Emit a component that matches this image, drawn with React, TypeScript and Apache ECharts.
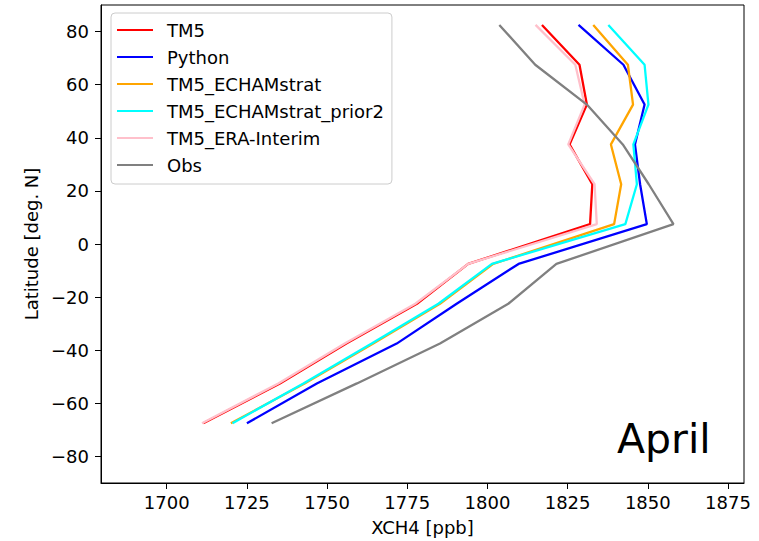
import React, { useEffect, useRef } from "react";
import * as echarts from "echarts";

const latitudes = [82.5, 67.5, 52.5, 37.5, 22.5, 7.5, -7.5, -22.5, -37.5, -52.5, -67.5];
const tm5 = [1817, 1828.7, 1831, 1825.6, 1832.7, 1832, 1794, 1778, 1756, 1735.3, 1711.4];
const python = [1828.4, 1842.4, 1849, 1846, 1847.6, 1849.7, 1809.7, 1790.4, 1771.7, 1746.8, 1725];
const echamStrat = [1833, 1843.8, 1845.4, 1838.5, 1841.7, 1839.5, 1801.8, 1785.2, 1764.4, 1743, 1720];
const echamStratPrior2 = [1837.7, 1849, 1850.2, 1845.5, 1846.6, 1843, 1801.4, 1784.7, 1763.9, 1742.6, 1720.5];
const eraInterim = [1815, 1827.4, 1830.3, 1825.2, 1833.4, 1834.1, 1794, 1777.5, 1755.5, 1734.8, 1711];
const obs = [1803.7, 1814.9, 1831, 1842.2, 1850.3, 1858, 1821.5, 1806.5, 1785.2, 1759.3, 1732.7];

const xTicks = [1700, 1725, 1750, 1775, 1800, 1825, 1850, 1875];
const yTicks = [-80, -60, -40, -20, 0, 20, 40, 60, 80];

const seriesDefs = [
  { name: "TM5", values: tm5, color: "#ff0000" },
  { name: "Python", values: python, color: "#0000ff" },
  { name: "TM5_ECHAMstrat", values: echamStrat, color: "#ffa500" },
  { name: "TM5_ECHAMstrat_prior2", values: echamStratPrior2, color: "#00ffff" },
  { name: "TM5_ERA-Interim", values: eraInterim, color: "#ffc0cb" },
  { name: "Obs", values: obs, color: "#808080" },
];

const FONT = "DejaVu Sans";
const FS = 18;

const fmt = (v: number) => (v < 0 ? "\u2212" + Math.abs(v) : String(v));

export default function App() {
  const ref = useRef<HTMLDivElement>(null);
  useEffect(() => {
    if (!ref.current) return;
    const chart = echarts.init(ref.current, null, { renderer: "svg" });
    chart.setOption({
      animation: false,
      backgroundColor: "#ffffff",
      textStyle: { fontFamily: FONT },
      grid: {
        left: 101,
        right: 15,
        top: 5,
        bottom: 58,
        show: true,
        borderColor: "#000",
        borderWidth: 1,
        outerBoundsMode: "none",
        containLabel: false,
      },
      legend: {
        orient: "vertical",
        left: 111,
        top: 13,
        padding: [8, 8, 10, 6],
        itemWidth: 36,
        itemHeight: 2,
        itemGap: 9,
        icon: "rect",
        backgroundColor: "rgba(255,255,255,0.8)",
        borderColor: "#cccccc",
        borderWidth: 1,
        borderRadius: 4,
        textStyle: {
          fontFamily: FONT,
          fontSize: FS,
          color: "#000",
          lineHeight: 18,
          padding: [0, 0, 0, 9],
        },
        data: seriesDefs.map((s) => s.name),
      },
      xAxis: {
        type: "value",
        min: 1679.5,
        max: 1880,
        name: "XCH4 [ppb]",
        nameLocation: "middle",
        nameGap: 35,
        nameTextStyle: { fontFamily: FONT, fontSize: FS, color: "#000" },
        axisLine: { show: true, onZero: false, lineStyle: { color: "#000", width: 1 } },
        axisTick: { show: true, length: 6, lineStyle: { color: "#000" }, customValues: xTicks },
        axisLabel: {
          fontFamily: FONT,
          fontSize: FS,
          color: "#000",
          margin: 10,
          customValues: xTicks,
          formatter: fmt,
        },
        splitLine: { show: false },
      },
      yAxis: {
        type: "value",
        min: -90,
        max: 90,
        name: "Latitude [deg. N]",
        nameLocation: "middle",
        nameGap: 59,
        nameTextStyle: { fontFamily: FONT, fontSize: FS, color: "#000" },
        axisLine: { show: true, onZero: false, lineStyle: { color: "#000", width: 1 } },
        axisTick: { show: true, length: 6, lineStyle: { color: "#000" }, customValues: yTicks },
        axisLabel: {
          fontFamily: FONT,
          fontSize: FS,
          color: "#000",
          margin: 12,
          customValues: yTicks,
          formatter: fmt,
        },
        splitLine: { show: false },
      },
      graphic: [
        {
          type: "text",
          left: 617,
          top: 418,
          style: {
            text: "April",
            fontFamily: FONT,
            fontSize: 41,
            fill: "#000",
          },
        },
      ],
      series: seriesDefs.map((s) => ({
        name: s.name,
        type: "line",
        data: s.values.map((v, i) => [v, latitudes[i]]),
        showSymbol: false,
        symbol: "none",
        color: s.color,
        lineStyle: { color: s.color, width: 2.3 },
        itemStyle: { color: s.color },
      })),
    });
    return () => chart.dispose();
  }, []);
  return (
    <div
      ref={ref}
      style={{ position: "fixed", left: 0, top: 0, width: 759, height: 541 }}
    />
  );
}
